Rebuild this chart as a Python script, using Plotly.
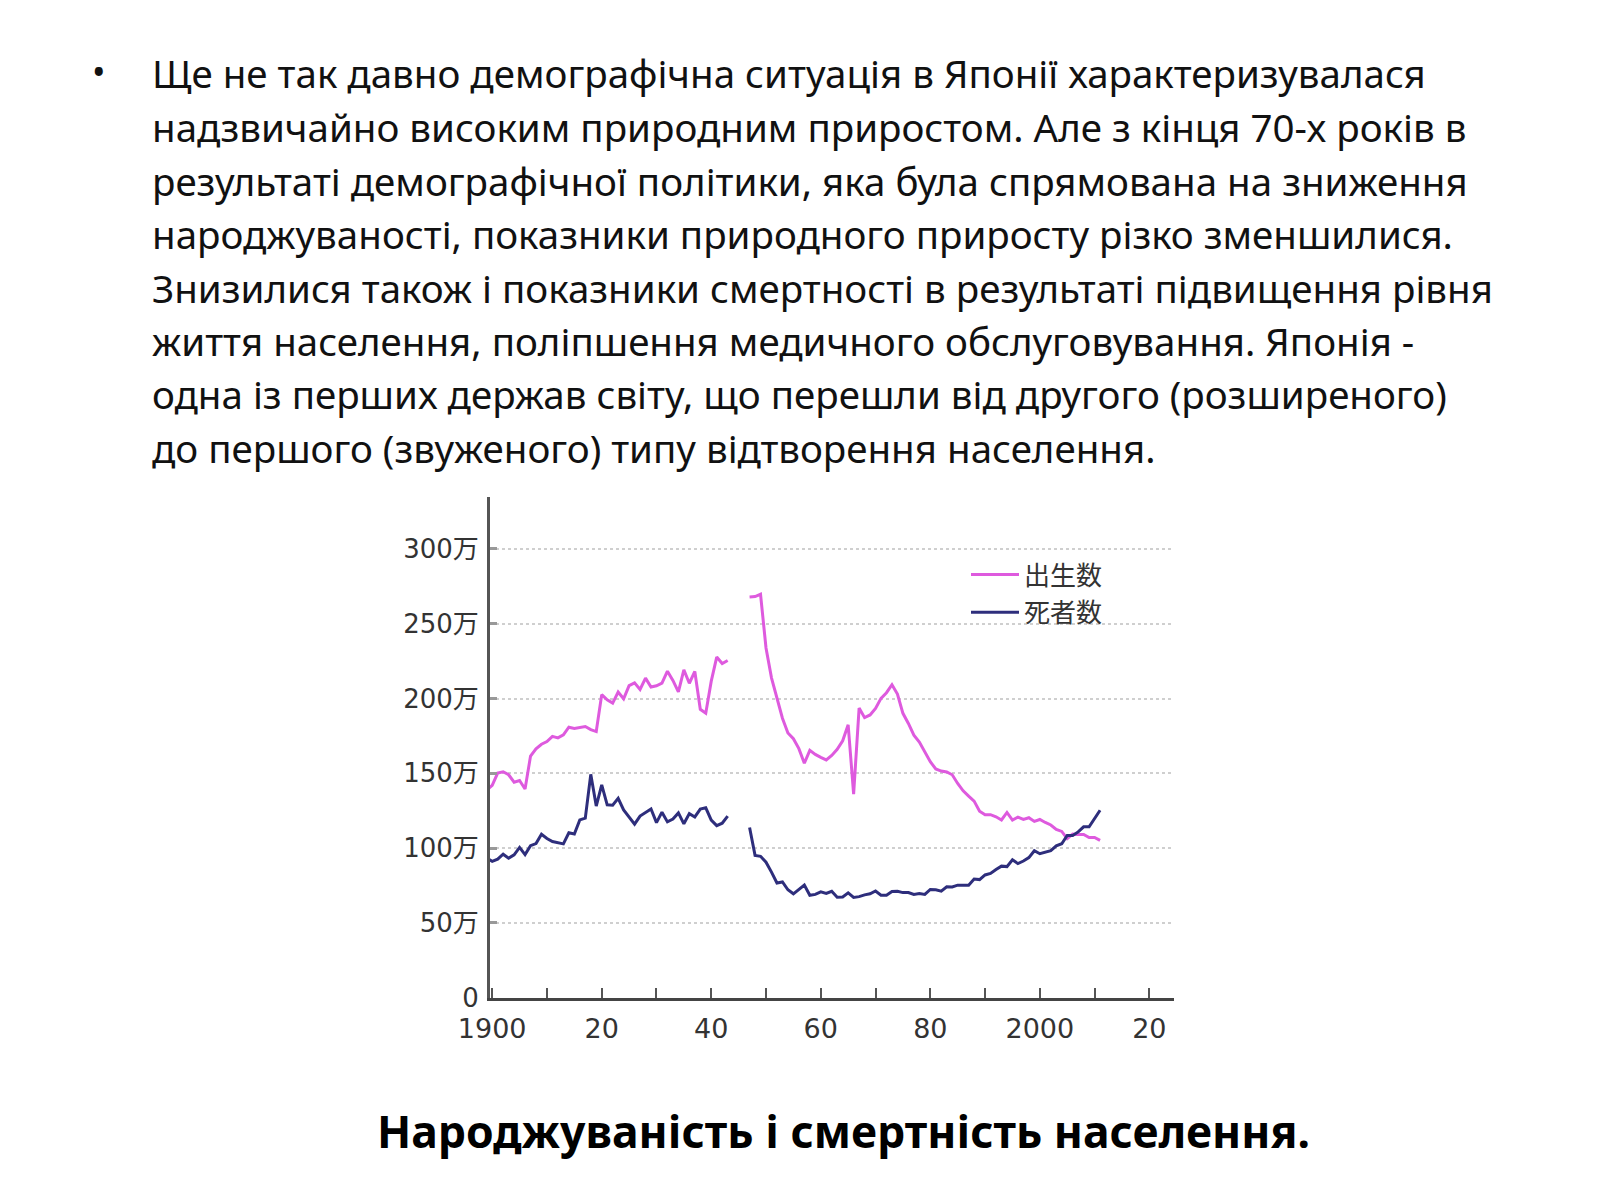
import plotly.graph_objects as go

# Japan: births and deaths per year (thousands), gap 1944-1946
years = list(range(1899, 2012))

births = [
    1386, 1420, 1501, 1510, 1490, 1440, 1452, 1395, 1615, 1663,   # 1899-1908
    1694, 1712, 1747, 1737, 1757, 1808, 1800, 1804, 1813, 1792,   # 1909-1918
    1779, 2026, 1991, 1969, 2043, 1998, 2086, 2105, 2061, 2136,   # 1919-1928
    2077, 2085, 2103, 2183, 2121, 2044, 2191, 2102, 2181, 1928,   # 1929-1938
    1902, 2116, 2277, 2234, 2254, None, None, None, 2679, 2682,   # 1939-1948
    2697, 2338, 2138, 2005, 1868, 1770, 1731, 1665, 1567, 1653,   # 1949-1958
    1626, 1606, 1589, 1619, 1660, 1717, 1824, 1361, 1936, 1872,   # 1959-1968
    1890, 1934, 2001, 2039, 2092, 2030, 1901, 1833, 1755, 1709,   # 1969-1978
    1643, 1577, 1529, 1515, 1509, 1490, 1432, 1383, 1347, 1314,   # 1979-1988
    1247, 1222, 1223, 1209, 1188, 1238, 1187, 1207, 1192, 1203,   # 1989-1998
    1178, 1191, 1171, 1154, 1124, 1111, 1063, 1093, 1090, 1091,   # 1999-2008
    1070, 1071, 1051,                                             # 2009-2011
]

deaths = [
    932, 911, 926, 959, 932, 955, 1004, 956, 1016, 1030,          # 1899-1908
    1092, 1064, 1044, 1038, 1028, 1102, 1094, 1188, 1200, 1493,   # 1909-1918
    1281, 1422, 1289, 1287, 1332, 1255, 1211, 1160, 1214, 1237,   # 1919-1928
    1261, 1170, 1240, 1175, 1194, 1235, 1162, 1230, 1208, 1260,   # 1929-1938
    1269, 1187, 1150, 1166, 1214, None, None, None, 1138, 951,    # 1939-1948
    945, 905, 839, 766, 773, 721, 694, 725, 752, 684,             # 1949-1958
    690, 707, 696, 711, 671, 673, 700, 670, 675, 687,             # 1959-1968
    694, 713, 685, 684, 709, 711, 702, 703, 690, 696,             # 1969-1978
    690, 723, 721, 712, 741, 740, 752, 751, 751, 793,             # 1979-1988
    789, 820, 830, 857, 879, 876, 922, 896, 913, 936,             # 1989-1998
    982, 962, 970, 982, 1015, 1029, 1084, 1084, 1108, 1142,       # 1999-2008
    1142, 1197, 1253,                                             # 2009-2011
]

x_ticks = list(range(1900, 2021, 10))
x_labels = ["1900", "", "20", "", "40", "", "60", "", "80", "", "2000", "", "20"]
y_ticks = [0, 500, 1000, 1500, 2000, 2500, 3000]
y_labels = ["0", "50万", "100万", "150万", "200万", "250万", "300万"]

body_lines = [
    "Ще не так давно демографічна ситуація в Японії характеризувалася",
    "надзвичайно високим природним приростом. Але з кінця 70-х років в",
    "результаті демографічної політики, яка була спрямована на зниження",
    "народжуваності, показники природного приросту різко зменшилися.",
    "Знизилися також і показники смертності в результаті підвищення рівня",
    "життя населення, поліпшення медичного обслуговування. Японія -",
    "одна із перших держав світу, що перешли від другого (розширеного)",
    "до першого (звуженого) типу відтворення населення.",
]
caption = "Народжуваність і смертність населення."

W, H = 1600, 1200
chart_font = "DejaVu Sans, Noto Sans CJK JP"


# the page shows the figure a little shifted, so positions are given
# in picture pixels and mapped back to paper fractions here
def fx(s):
    return (s - 40) / 0.98 / W


def fy(s):
    return 1 - (s - 7.9) / 0.993 / H


fig = go.Figure()
fig.add_trace(go.Scatter(x=years, y=births, mode="lines", name="出生数", legendgroup="b",
                         line=dict(color="#de5ade", width=3)))
fig.add_trace(go.Scatter(x=years, y=deaths, mode="lines", name="死者数", legendgroup="d",
                         line=dict(color="#2e2e7c", width=3)))

# slide text
annotations = [dict(text="•", x=fx(99), y=fy(72), xref="paper", yref="paper",
                    xanchor="center", yanchor="middle", showarrow=False,
                    font=dict(family="Noto Sans", size=36, color="#111"))]
line_y = [73, 127.4, 181.8, 235.1, 289.5, 342.8, 396.1, 450.5]
for txt, yy in zip(body_lines, line_y):
    annotations.append(dict(text=txt, x=fx(150), y=fy(yy), xref="paper", yref="paper",
                            xanchor="left", yanchor="middle", showarrow=False,
                            font=dict(family="Noto Sans", size=38.5, color="#111")))
annotations.append(dict(text="<b>" + caption + "</b>", x=fx(843), y=fy(1136.4),
                        xref="paper", yref="paper", xanchor="center", yanchor="middle",
                        showarrow=False,
                        font=dict(family="Noto Sans", size=44.5, color="#000")))

fig.update_layout(
    width=W, height=H,
    margin=dict(l=0, r=0, t=0, b=0),
    paper_bgcolor="white", plot_bgcolor="white",
    showlegend=True,
    legend=dict(x=fx(966), y=fy(554), xanchor="left", yanchor="top",
                tracegroupgap=1, itemwidth=48,
                bgcolor="rgba(0,0,0,0)", font=dict(family=chart_font, size=26, color="#333")),
    xaxis=dict(domain=[fx(490), fx(1174)], range=[1899.6, 2024.5],
               tickvals=x_ticks, ticktext=x_labels, ticks="inside", ticklen=10,
               tickwidth=2, tickcolor="#555", showline=True, linecolor="#444", linewidth=3,
               showgrid=False, zeroline=False, ticklabelstandoff=5,
               tickfont=dict(family=chart_font, size=27, color="#333")),
    yaxis=dict(domain=[fy(1003), fy(500)], range=[0, 3345],
               tickvals=y_ticks, ticktext=y_labels, ticks="inside", ticklen=7,
               tickwidth=3, tickcolor="#999", showline=True, linecolor="#555", linewidth=3,
               showgrid=True, gridcolor="#cfcfcf", gridwidth=2, griddash="dot",
               zeroline=False, ticklabelstandoff=3,
               tickfont=dict(family=chart_font, size=26, color="#333")),
    annotations=annotations,
)

fig.write_html("out.html")
